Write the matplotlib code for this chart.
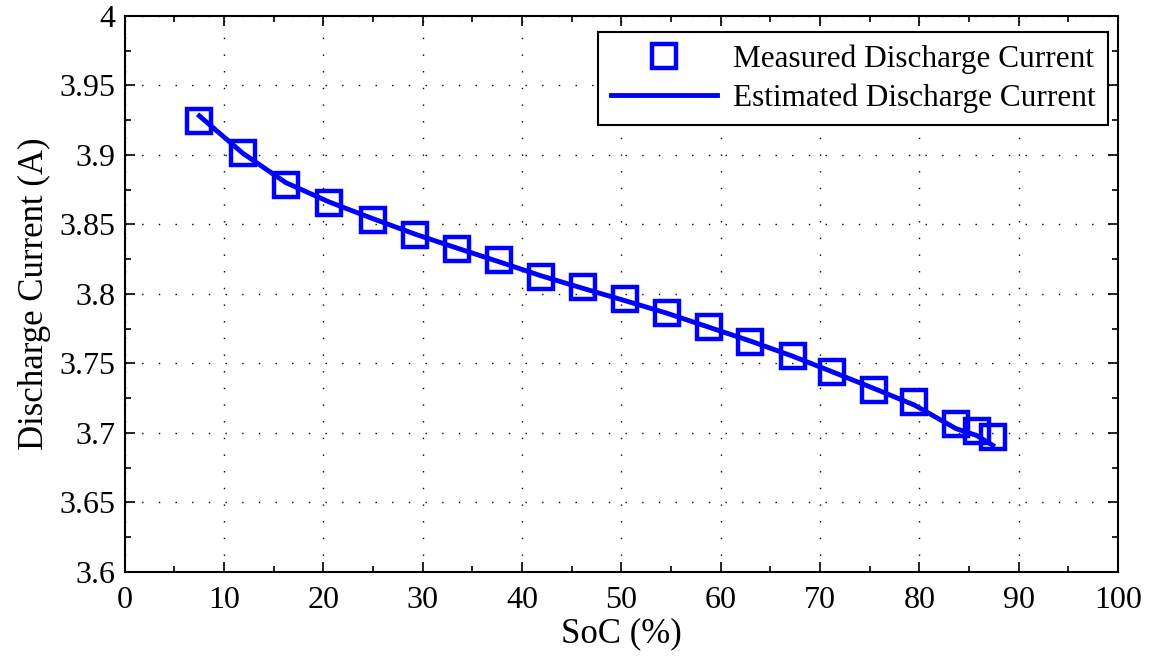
import matplotlib.pyplot as plt
from matplotlib.ticker import MultipleLocator

plt.rcParams['font.family'] = ['Liberation Serif', 'DejaVu Serif']

# SoC (%) at each measurement
soc = [7.5, 11.9, 16.2, 20.6, 25.0, 29.2, 33.4, 37.7, 41.9, 46.1, 50.4,
       54.6, 58.8, 63.0, 67.3, 71.2, 75.4, 79.5, 83.7, 85.8, 87.4]
# measured discharge current (A)
i_meas = [3.924, 3.901, 3.878, 3.865, 3.853, 3.842, 3.832, 3.824, 3.812,
          3.805, 3.796, 3.786, 3.776, 3.765, 3.755, 3.744, 3.731, 3.722,
          3.706, 3.701, 3.697]
# estimated discharge current (A)
i_est = [3.928, 3.901, 3.880, 3.866, 3.854, 3.843, 3.833, 3.823, 3.813,
         3.804, 3.795, 3.786, 3.776, 3.766, 3.755, 3.744, 3.732, 3.720,
         3.703, 3.698, 3.691]

fig = plt.figure(figsize=(11.56, 6.58), dpi=100)
ax = fig.add_axes([0.108, 0.131, 0.859, 0.845])

ax.plot(soc, i_meas, 's', color='none', mec='#0000ff', mew=3.2, ms=17,
        label='Measured Discharge Current')
ax.plot(soc, i_est, '-', color='#0000ff', lw=3.5,
        label='Estimated Discharge Current')

ax.set_xlim(0, 100)
ax.set_ylim(3.6, 4.0)
ax.xaxis.set_major_locator(MultipleLocator(10))
ax.xaxis.set_minor_locator(MultipleLocator(5))
ax.yaxis.set_minor_locator(MultipleLocator(0.025))
ax.set_yticks([3.6, 3.65, 3.7, 3.75, 3.8, 3.85, 3.9, 3.95, 4.0])
ax.set_yticklabels(['3.6', '3.65', '3.7', '3.75', '3.8', '3.85', '3.9', '3.95', '4'])

ax.tick_params(which='both', direction='in', top=True, right=True, labelsize=23)
ax.tick_params(which='major', length=7, width=1.2)
ax.tick_params(which='minor', length=4, width=1.2)
ax.tick_params(axis='x', pad=10)
ax.tick_params(axis='y', pad=7)
for s in ax.spines.values():
    s.set_linewidth(1.5)

ax.grid(True, which='major', color='k', lw=1.0, linestyle=(0, (1, 11)))

ax.set_xlabel('SoC (%)', fontsize=25, labelpad=2)
ax.set_ylabel('Discharge Current (A)', fontsize=25, labelpad=6)

leg = ax.legend(loc='upper right', bbox_to_anchor=(0.99, 0.971),
                fontsize=22.5, handlelength=3.4, handletextpad=0.5,
                fancybox=False, framealpha=1, edgecolor='k',
                borderpad=0.4, labelspacing=0.3, borderaxespad=0)
leg.get_frame().set_linewidth(1.5)

fig.savefig('out.png', dpi=100)
